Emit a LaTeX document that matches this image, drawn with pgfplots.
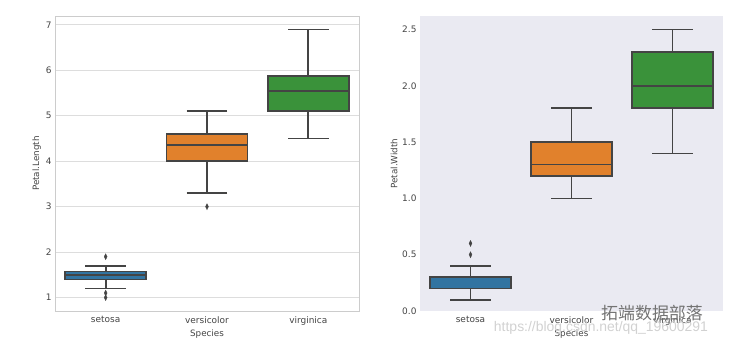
\documentclass[border=0pt]{standalone}
\usepackage{pgfplots}
\pgfplotsset{compat=1.18}
\usepgfplotslibrary{statistics}
\usepackage{fontspec}
\setmainfont{DejaVu Sans}
\newfontfamily\cjk{Noto Sans CJK SC}
\newfontfamily\urlfont{Liberation Sans}
\definecolor{sbblue}{HTML}{3274A1}
\definecolor{sborange}{HTML}{E1812C}
\definecolor{sbgreen}{HTML}{3A923A}
\definecolor{lgray}{HTML}{444444}
\definecolor{gridc}{HTML}{DDDDDD}
\definecolor{spinec}{HTML}{CCCCCC}
\definecolor{darkbg}{HTML}{EAEAF2}
\begin{document}
\begin{tikzpicture}
\path[use as bounding box] (0,0) rectangle (730bp,346bp);
\pgfplotsset{
  boxplot/every box/.style={draw=lgray, line width=1.7bp},
  boxplot/every whisker/.style={draw=lgray, line width=1.7bp},
  boxplot/every median/.style={draw=lgray, line width=1.7bp},
  sbbox/.style={
    boxplot/draw direction=y,
    line width=1.7bp, draw=lgray, solid,
    mark=diamond*, mark size=3bp,
    mark options={fill=lgray, draw=lgray, xscale=0.65, line width=0.3bp},
  },
  common/.style={
    scale only axis, anchor=south west,
    width=304bp, height=295bp,
    xmin=-0.5, xmax=2.5,
    xtick={0,1,2}, xticklabels={setosa,versicolor,virginica},
    major tick length=0pt,
    tick label style={font=\fontsize{9}{10}\selectfont, text=lgray},
    label style={font=\fontsize{8.8}{10}\selectfont, text=lgray},
    /pgf/number format/assume math mode=true,
    xticklabel style={yshift=-2bp},
    xlabel={Species},
    xlabel style={yshift=2bp},
    ylabel style={yshift=-2bp},
    cycle list={{draw=lgray}},
  },
}
\begin{axis}[common,
  at={(55bp,35bp)},
  ymin=0.705, ymax=7.195,
  ytick={1,2,3,4,5,6,7},
  ymajorgrids, grid style={gridc, line width=0.8bp},
  axis line style={spinec, line width=0.8bp},
  ylabel={Petal.Length},
]
\addplot[sbbox, fill=sbblue, boxplot prepared={draw position=0, lower whisker=1.2, lower quartile=1.4, median=1.5, upper quartile=1.575, upper whisker=1.7, box extend=0.8, whisker extend=0.4}] coordinates {(0,1.0) (0,1.1) (0,1.9)};
\addplot[sbbox, fill=sborange, boxplot prepared={draw position=1, lower whisker=3.3, lower quartile=4.0, median=4.35, upper quartile=4.6, upper whisker=5.1, box extend=0.8, whisker extend=0.4}] coordinates {(1,3.0)};
\addplot[sbbox, fill=sbgreen, boxplot prepared={draw position=2, lower whisker=4.5, lower quartile=5.1, median=5.55, upper quartile=5.875, upper whisker=6.9, box extend=0.8, whisker extend=0.4}] coordinates {};
\end{axis}
\begin{axis}[common,
  at={(420bp,35bp)}, width=303bp,
  ymin=0, ymax=2.62,
  ytick={0,0.5,1,1.5,2,2.5},
  yticklabel style={/pgf/number format/.cd, fixed, fixed zerofill, precision=1},
  axis background/.style={fill=darkbg},
  axis line style={draw=none},
  ylabel={Petal.Width},
]
\addplot[sbbox, fill=sbblue, boxplot prepared={draw position=0, lower whisker=0.1, lower quartile=0.2, median=0.2, upper quartile=0.3, upper whisker=0.4, box extend=0.8, whisker extend=0.4}] coordinates {(0,0.5) (0,0.6)};
\addplot[sbbox, fill=sborange, boxplot prepared={draw position=1, lower whisker=1.0, lower quartile=1.2, median=1.3, upper quartile=1.5, upper whisker=1.8, box extend=0.8, whisker extend=0.4}] coordinates {};
\addplot[sbbox, fill=sbgreen, boxplot prepared={draw position=2, lower whisker=1.4, lower quartile=1.8, median=2.0, upper quartile=2.3, upper whisker=2.5, box extend=0.8, whisker extend=0.4}] coordinates {};
\end{axis}
\node[text=black!55, font=\cjk\fontsize{17}{18}\selectfont] at (652bp,33bp) {拓端数据部落};
\node[text=black!18, font=\urlfont\fontsize{14}{16}\selectfont] at (601bp,18bp) {https://blog.csdn.net/qq\_19600291};
\end{tikzpicture}
\end{document}
